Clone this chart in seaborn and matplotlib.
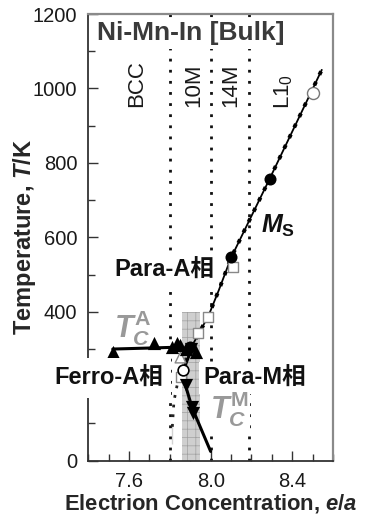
import matplotlib
matplotlib.use("Agg")
import matplotlib.pyplot as plt
import seaborn as sns
import pandas as pd
from matplotlib.ticker import MultipleLocator, FixedLocator

# ---------------- data ----------------
ms_x = [8.10, 8.29]
ms_T = [547, 758]
ms_open_x = [8.50]
ms_open_T = [987]
af_x = [7.940, 7.988, 8.108]
af_T = [343, 387, 520]
ms_line_x = [7.90, 7.94, 7.99, 8.04, 8.10, 8.29, 8.545]
ms_line_T = [300, 340, 390, 458, 545, 758, 1050]
ext_x = [7.90, 7.87, 7.84, 7.82, 7.81, 7.81]
ext_T = [300, 265, 215, 160, 100, 45]
tca_x = [7.52, 7.72, 7.81, 7.835, 7.85, 7.88, 7.93]
tca_T = [293, 317, 306, 317, 310, 300, 292]
tca_line_x = [7.52, 7.72, 7.84, 7.91]
tca_line_T = [300, 303, 305, 300]
tcm_x = [7.905, 7.88, 7.91, 7.915]
tcm_T = [300, 203, 145, 128]
tcm_line_x = [7.905, 7.865, 7.875, 7.91, 8.0]
tcm_line_T = [297, 243, 205, 141, 25]
cl_circ_x = [7.865]
cl_circ_T = [243]
cl_sq_x = [7.857]
cl_sq_T = [225]
cl_tri_x = [7.85]
cl_tri_T = [279]
cl_fill_x = [7.90]
cl_fill_T = [305]
band_x = [7.86, 7.95]
band_top = 400
boundaries = [7.80, 8.00, 8.19]
structures = ["BCC", "10M", "14M", "L1$_\\mathregular{0}$"]
structure_x = [7.638, 7.918, 8.10, 8.36]
structure_T = [1012, 1009, 1009, 992]

x_ticks = [7.6, 8.0, 8.4]
x_tick_labels = ["7.6", "8.0", "8.4"]
y_ticks = [0, 200, 400, 600, 800, 1000, 1200]
y_tick_labels = ["0", "", "400", "600", "800", "1000", "1200"]

# ---------------- style ----------------
sns.set_theme(style="ticks")
plt.rcParams["font.family"] = ["Liberation Sans", "Noto Sans CJK JP", "DejaVu Sans"]
plt.rcParams["mathtext.fontset"] = "custom"
plt.rcParams["mathtext.it"] = "Liberation Sans:italic:bold"
plt.rcParams["mathtext.rm"] = "Liberation Sans:bold"
plt.rcParams["mathtext.bf"] = "Liberation Sans:bold"
plt.rcParams["hatch.linewidth"] = 0.5
plt.rcParams["hatch.color"] = "#9a9a9a"

fig = plt.figure(figsize=(3.69, 5.15), dpi=100)
ax = fig.add_axes([0.2393, 0.1054, 0.9024 - 0.2393, 0.9728 - 0.1054])

ax.fill_between(band_x, [0, 0], [band_top, band_top], facecolor="#cfcfcf",
                edgecolor="#a0a0a0", hatch="++", linewidth=0.0, zorder=1)

for b in boundaries:
    ax.axvline(b, color="#111111", lw=2.0, ls=(0, (1, 3)), zorder=2)

sns.lineplot(x=ms_line_x, y=ms_line_T, ax=ax, color="black", lw=1.3, sort=False, zorder=3)
sns.lineplot(x=ms_line_x, y=ms_line_T, ax=ax, color="black", lw=2.8, ls=(0, (1, 2)), sort=False, zorder=3)
sns.lineplot(x=ext_x, y=ext_T, ax=ax, color="#222222", lw=2.0, ls=(0, (1, 2.5)), sort=False, zorder=3)
sns.lineplot(x=tca_line_x, y=tca_line_T, ax=ax, color="black", lw=2.2, sort=False, zorder=3)
sns.lineplot(x=tcm_line_x, y=tcm_line_T, ax=ax, color="black", lw=2.2, sort=False, zorder=3)

sns.scatterplot(x=af_x, y=af_T, ax=ax, marker="s", s=45, facecolor="white",
                edgecolor="#888888", linewidth=1.0, zorder=4)
sns.scatterplot(x=cl_sq_x, y=cl_sq_T, ax=ax, marker="s", s=45, facecolor="white",
                edgecolor="#888888", linewidth=1.0, zorder=4)
sns.scatterplot(x=ms_x, y=ms_T, ax=ax, marker="o", s=75, color="black", linewidth=0, zorder=5)
sns.scatterplot(x=ms_open_x, y=ms_open_T, ax=ax, marker="o", s=75, facecolor="white",
                edgecolor="#777777", linewidth=1.0, zorder=5)
sns.scatterplot(x=tca_x, y=tca_T, ax=ax, marker="^", s=90, color="black", linewidth=0, zorder=5)
sns.scatterplot(x=tcm_x, y=tcm_T, ax=ax, marker="v", s=90, color="black", linewidth=0, zorder=5)
sns.scatterplot(x=cl_fill_x, y=cl_fill_T, ax=ax, marker="o", s=75, color="black", linewidth=0, zorder=5)
sns.scatterplot(x=cl_circ_x, y=cl_circ_T, ax=ax, marker="o", s=60, facecolor="white",
                edgecolor="black", linewidth=1.2, zorder=5)
sns.scatterplot(x=cl_tri_x, y=cl_tri_T, ax=ax, marker="^", s=60, facecolor="white",
                edgecolor="#888888", linewidth=1.0, zorder=4)

ax.set_xlim(7.4, 8.6)
ax.set_ylim(0, 1200)
ax.xaxis.set_major_locator(FixedLocator(x_ticks))
ax.xaxis.set_minor_locator(MultipleLocator(0.1))
ax.yaxis.set_major_locator(FixedLocator(y_ticks))
ax.yaxis.set_minor_locator(MultipleLocator(100))
ax.set_xticklabels(x_tick_labels, fontsize=14.5, fontfamily="Liberation Sans")
ax.set_yticklabels(y_tick_labels, fontsize=14.5, fontfamily="Liberation Sans")
ax.tick_params(which="both", direction="in", colors="#333333", labelcolor="#1a1a1a",
               top=False, right=False)
ax.tick_params(which="major", length=7, width=1.0)
ax.tick_params(which="minor", length=5, width=1.0)
ax.tick_params(axis="y", pad=8)
ax.tick_params(axis="x", pad=8)
for s in ["left", "bottom"]:
    ax.spines[s].set_color("#333333")
    ax.spines[s].set_linewidth(1.3)
for s in ["top", "right"]:
    ax.spines[s].set_color("#8a8a8a")
    ax.spines[s].set_linewidth(1.6)

ax.set_xlabel("Electrion Concentration, $e/a$", fontsize=15.8, fontweight="bold")
ax.set_ylabel("Temperature, $T$/K", fontsize=17, fontweight="bold")
ax.xaxis.set_label_coords(0.5, -0.071)
ax.yaxis.set_label_coords(-0.205, 0.5)

white = dict(facecolor="white", edgecolor="none", pad=2.5)

ax.text(7.442, 1148, "Ni-Mn-In [Bulk]", fontsize=19, fontweight="bold", color="#3a3a3a",
        ha="left", va="center", bbox=white, zorder=10)
for lab, sx, sT in zip(structures, structure_x, structure_T):
    ax.text(sx, sT, lab, fontsize=16, rotation=90, ha="center", va="center",
            color="#1a1a1a", zorder=10)

ax.text(7.775, 512, "Para-A相", fontsize=17, fontweight="bold", color="#111111",
        ha="center", va="center", bbox=dict(facecolor="white", edgecolor="none", pad=3), zorder=10)
ax.text(7.50, 222, "Ferro-A相", fontsize=17, fontweight="bold", color="#111111",
        ha="center", va="center", bbox=dict(facecolor="white", edgecolor="none", pad=6),
        zorder=10, clip_on=False)
ax.text(8.215, 222, "Para-M相", fontsize=17, fontweight="bold", color="#111111",
        ha="center", va="center", bbox=dict(facecolor="white", edgecolor="none", pad=3), zorder=10)
ax.text(7.62, 355, r"$T_C^{\mathrm{A}}$", fontsize=22, color="#999999",
        ha="center", va="center", zorder=10)
ax.text(8.09, 140, r"$T_C^{\mathrm{M}}$", fontsize=22, color="#999999",
        ha="center", va="center", bbox=dict(facecolor="white", edgecolor="none", pad=1), zorder=10)
ax.text(8.33, 632, r"$M_{\mathrm{S}}$", fontsize=18, color="#111111",
        ha="center", va="center", zorder=10)

fig.savefig("out.png", dpi=100)
